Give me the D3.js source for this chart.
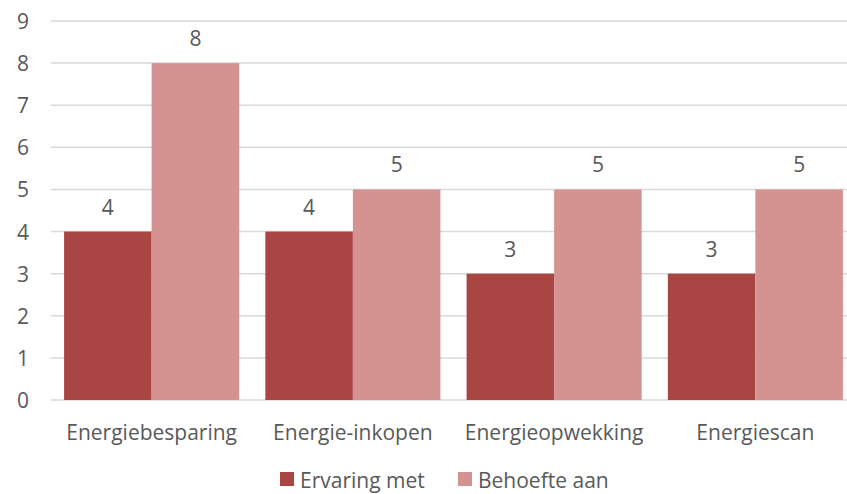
<!DOCTYPE html>
<html>
<head>
<meta charset="utf-8">
<script src="https://d3js.org/d3.v7.min.js"></script>
<style>
  body { margin: 0; background: #fff; }
  svg text { font-family: "Open Sans", sans-serif; fill: #595959; font-size: 21px; }
</style>
</head>
<body>
<div id="chart"></div>
<script>
// data
const categories = ["Energiebesparing", "Energie-inkopen", "Energieopwekking", "Energiescan"];
const seriesNames = ["Ervaring met", "Behoefte aan"];
const ervaringMet = [4, 4, 3, 3];
const behoefteAan = [8, 5, 5, 5];
const yTicks = [0, 1, 2, 3, 4, 5, 6, 7, 8, 9];
const colors = ["#A94543", "#D49391"];

const width = 847, height = 494;
const svg = d3.select("#chart").append("svg")
    .attr("width", width).attr("height", height);

const x = d3.scaleBand().domain(categories).range([51, 856])
    .paddingInner(0.13).paddingOuter(0.065);
const xs = d3.scaleBand().domain(seriesNames).range([0, x.bandwidth()]);
const y = d3.scaleLinear().domain([0, 9]).range([400, 21]);

// gridlines
svg.append("g").selectAll("line").data(yTicks).join("line")
    .attr("x1", 51).attr("x2", width)
    .attr("y1", d => y(d)).attr("y2", d => y(d))
    .attr("stroke", "#d9d9d9").attr("stroke-width", 1.5);

// y labels
svg.append("g").selectAll("text").data(yTicks).join("text")
    .attr("x", 29).attr("y", d => y(d) + 8)
    .attr("text-anchor", "end")
    .text(d => d);

const rows = categories.map((c, i) => [
    { cat: c, s: seriesNames[0], v: ervaringMet[i], k: 0 },
    { cat: c, s: seriesNames[1], v: behoefteAan[i], k: 1 }
]).flat();

svg.append("g").selectAll("rect").data(rows).join("rect")
    .attr("x", d => x(d.cat) + xs(d.s))
    .attr("width", xs.bandwidth())
    .attr("y", d => y(d.v))
    .attr("height", d => y(0) - y(d.v))
    .attr("fill", d => colors[d.k]);

// value labels
svg.append("g").selectAll("text").data(rows).join("text")
    .attr("x", d => x(d.cat) + xs(d.s) + xs.bandwidth() / 2)
    .attr("y", d => y(d.v) - 17)
    .attr("text-anchor", "middle")
    .text(d => d.v);

// category labels
svg.append("g").selectAll("text").data(categories).join("text")
    .attr("x", d => x(d) + x.bandwidth() / 2)
    .attr("y", 440)
    .attr("text-anchor", "middle")
    .text(d => d);

// legend
const legendX = [280, 458];
const lg = svg.append("g").selectAll("g").data(seriesNames).join("g")
    .attr("transform", (d, i) => `translate(${legendX[i]},472)`);
lg.append("rect").attr("width", 14).attr("height", 14)
    .attr("fill", (d, i) => colors[i]);
lg.append("text").attr("x", 20).attr("y", 16)
    .text(d => d);
</script>
</body>
</html>
